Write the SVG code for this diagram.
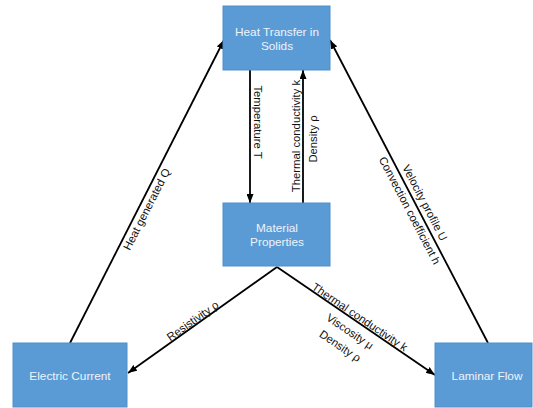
<svg xmlns="http://www.w3.org/2000/svg" width="533" height="408" viewBox="0 0 533 408">
<defs>
<marker id="ah" markerUnits="userSpaceOnUse" markerWidth="9" markerHeight="7" refX="9" refY="3.5" orient="auto">
<path d="M0,0 L9,3.5 L0,7 z" fill="#000"/>
</marker>
<style>
.box{fill:#5b9bd5;stroke:#4f8fcb;stroke-width:1}
.bt{font-family:"Liberation Sans",Arial,sans-serif;font-size:11.8px;fill:#eef3fa;text-anchor:middle}
.lt{font-family:"Liberation Sans",Arial,sans-serif;font-size:11.3px;fill:#111;text-anchor:middle}
.cn{stroke:#000;stroke-width:1.8;fill:none;marker-end:url(#ah)}
</style>
</defs>
<rect width="533" height="408" fill="#fff"/>
<g id="connectors">
<line class="cn" x1="70" y1="343" x2="224" y2="40"/>
<line class="cn" x1="488" y1="343" x2="330" y2="40"/>
<line class="cn" x1="250" y1="70" x2="250" y2="203"/>
<line class="cn" x1="303" y1="203" x2="303" y2="70"/>
<line class="cn" x1="277" y1="267" x2="128" y2="373"/>
<line class="cn" x1="277" y1="267" x2="435" y2="375"/>
<g transform="translate(139.8,205.8) rotate(-63.06)"><text class="lt" x="0" y="11.5">Heat generated Q</text></g>
<g transform="translate(416.9,206.8) rotate(62.46)"><text class="lt" x="0" y="-5">Velocity profile U</text><text class="lt" x="0" y="12">Convection coefficient h</text></g>
<g transform="translate(356.5,321.9) rotate(34.1)"><text class="lt" x="0" y="-2">Thermal conductivity k</text><text class="lt" x="0" y="15.5">Viscosity μ</text><text class="lt" x="0" y="33">Density ρ</text></g>
<g transform="translate(195.8,325.2) rotate(-35.2)"><text class="lt" x="0" y="-1.5">Resistivity ρ</text></g>
<g transform="translate(254,122) rotate(90)"><text class="lt" x="0" y="0">Temperature T</text></g>
<g transform="translate(300,136) rotate(-90)"><text class="lt" x="0" y="0">Thermal conductivity k</text></g>
<g transform="translate(317,139) rotate(-90)"><text class="lt" x="0" y="0">Density ρ</text></g>
</g>
<g id="heat-transfer">
<rect class="box" x="223" y="6" width="107" height="64"/>
<text class="bt" x="277" y="36">Heat Transfer in</text>
<text class="bt" x="277" y="50">Solids</text>
</g>
<g id="material-properties">
<rect class="box" x="223" y="203" width="107" height="63"/>
<text class="bt" x="277" y="232">Material</text>
<text class="bt" x="277" y="246">Properties</text>
</g>
<g id="electric-current">
<rect class="box" x="13" y="343" width="114" height="64"/>
<text class="bt" x="70" y="380">Electric Current</text>
</g>
<g id="laminar-flow">
<rect class="box" x="435" y="343" width="97" height="64"/>
<text class="bt" x="487" y="380">Laminar Flow</text>
</g>
</svg>
